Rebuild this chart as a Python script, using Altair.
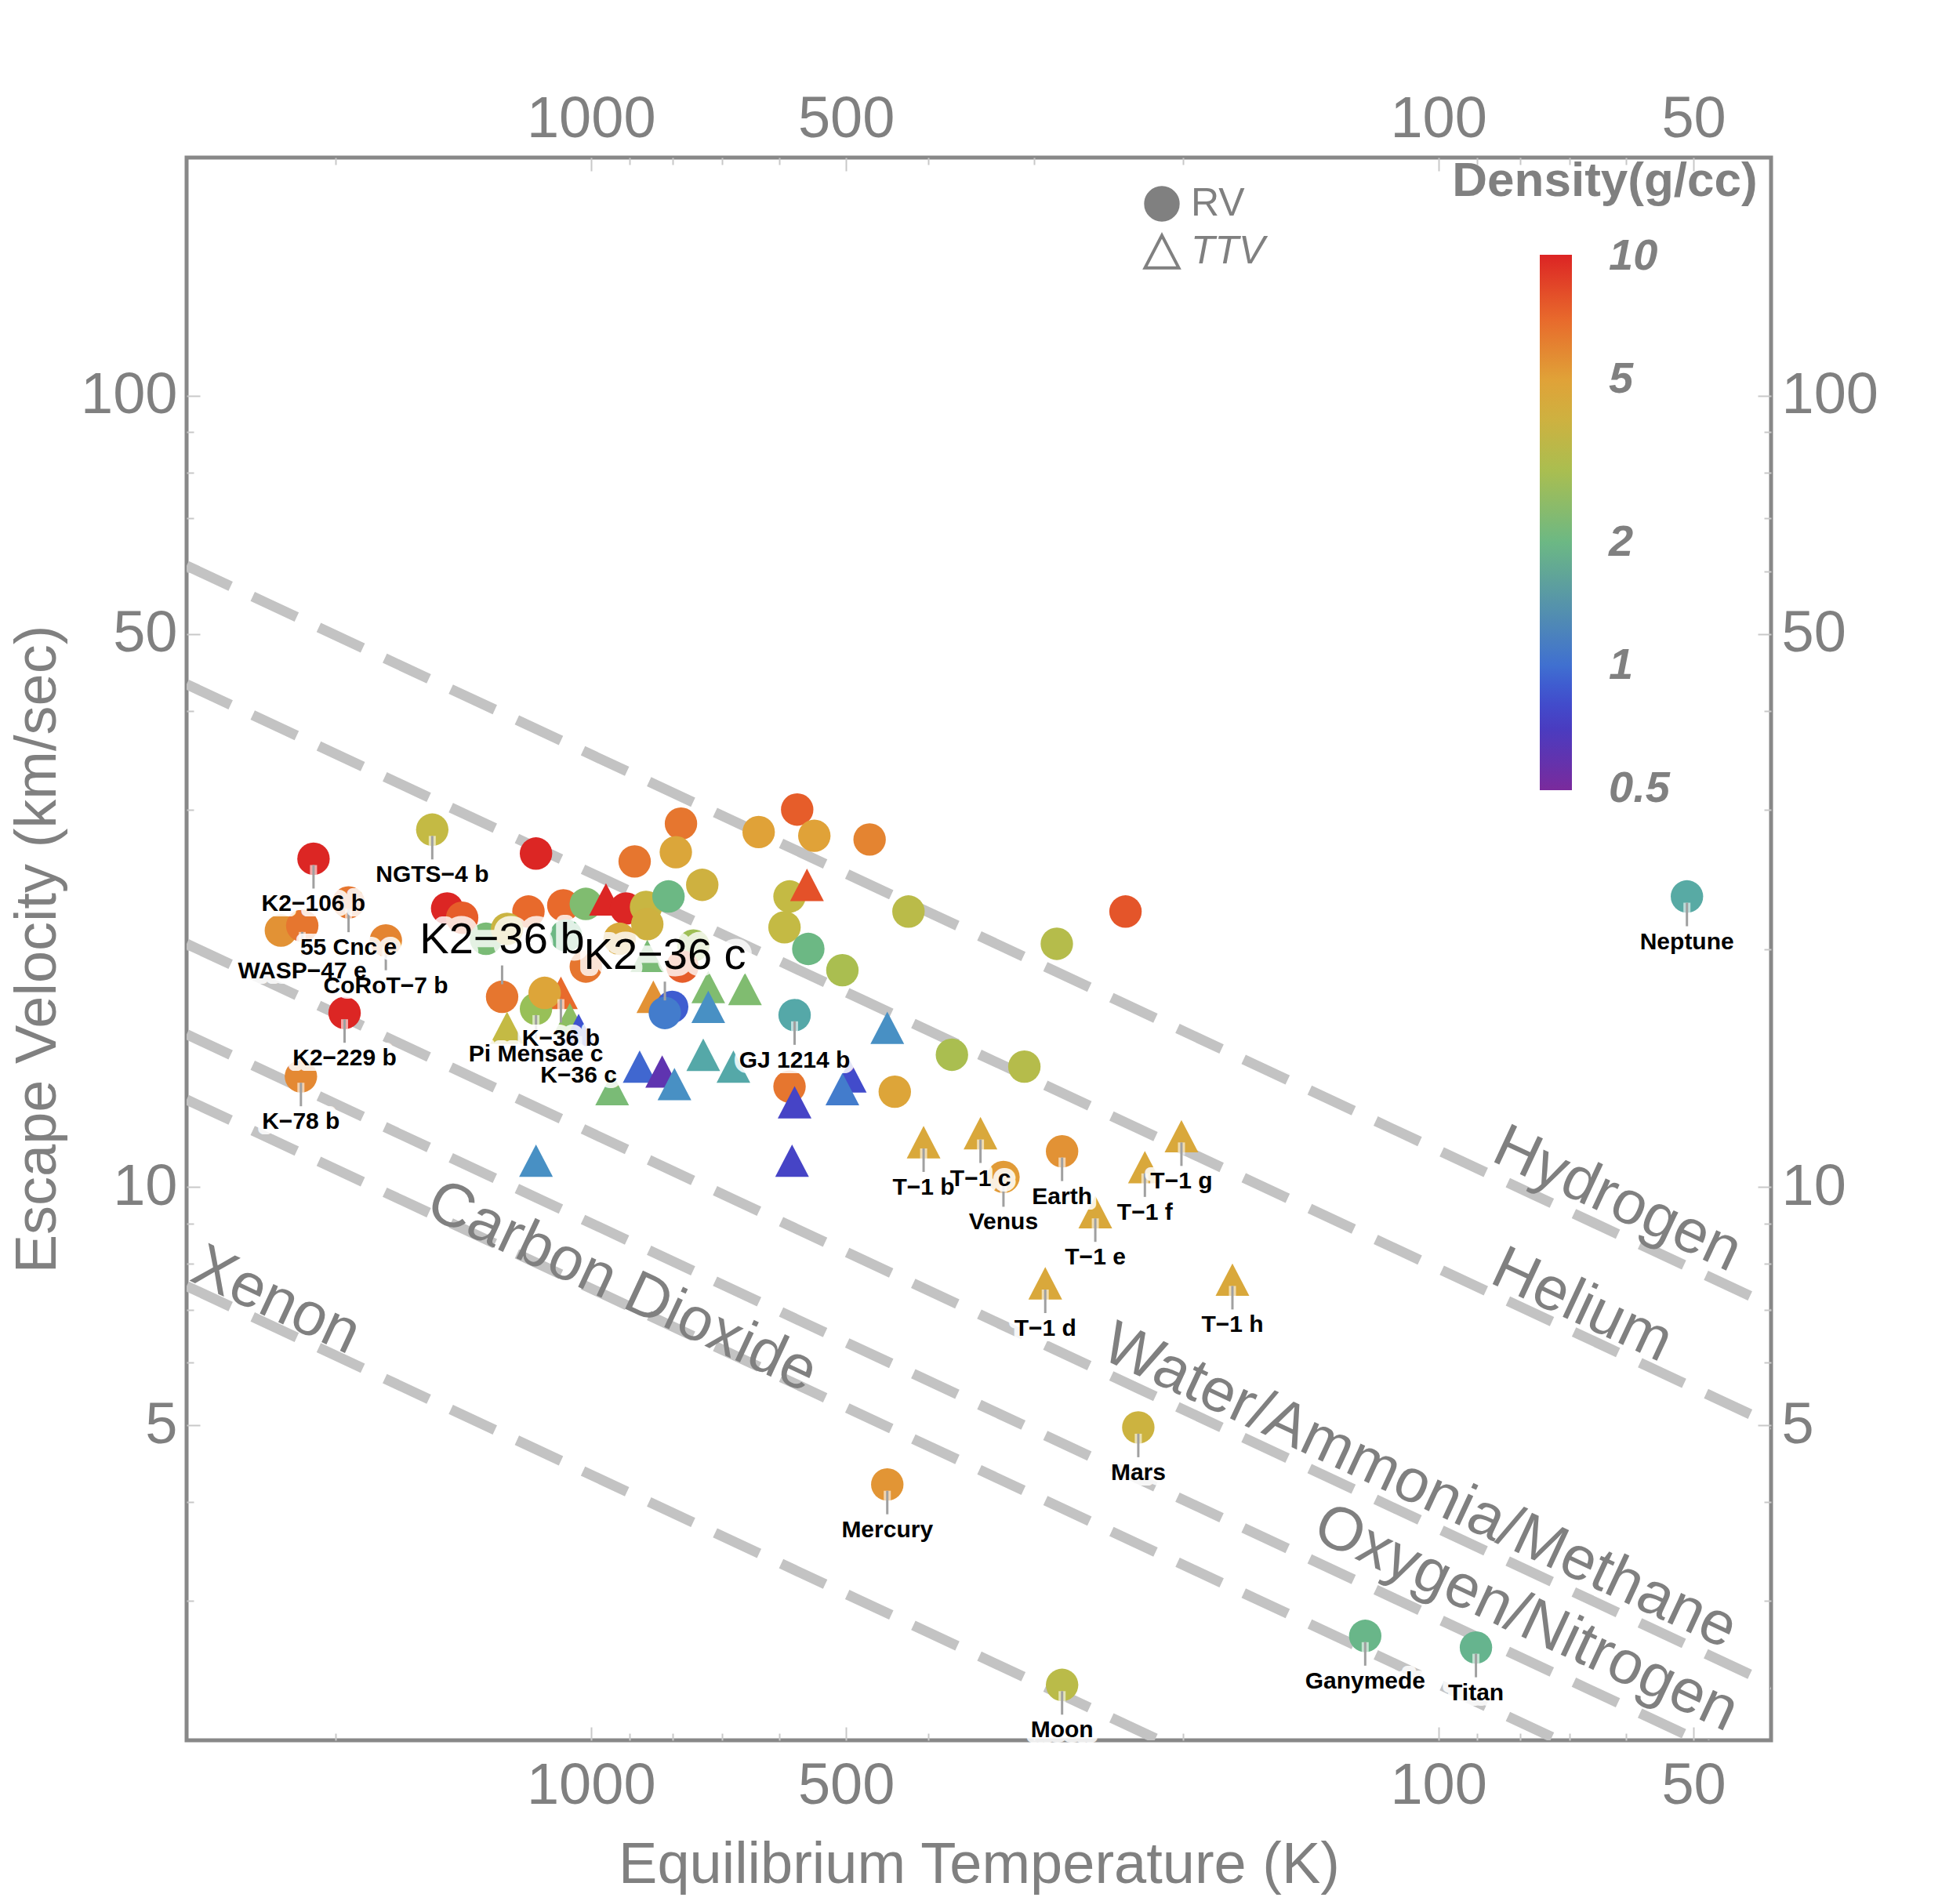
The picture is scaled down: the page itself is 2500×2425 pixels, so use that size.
import altair as alt
import pandas as pd

# ---------------- data ----------------
planet_names = [
    "K2−106 b", "NGTS−4 b", "", "55 Cnc e", "", "WASP−47 e", "CoRoT−7 b", "K2−229 b", "K−78 b", "",
    "", "", "", "", "", "", "", "", "", "",
    "", "", "", "", "", "", "", "", "", "",
    "", "", "", "", "Neptune", "", "", "", "", "",
    "", "", "", "", "K2−36 b", "K−36 b", "", "", "K2−36 c", "",
    "", "", "GJ 1214 b", "", "Pi Mensae c", "", "", "", "K−36 c", "",
    "", "", "", "", "", "", "", "", "", "",
    "", "", "", "", "T−1 b", "T−1 c", "Venus", "Earth", "T−1 e", "T−1 f",
    "T−1 g", "T−1 d", "T−1 h", "Mercury", "Mars", "Moon", "Ganymede", "Titan",
]
planet_teq = [
    2125, 1539, 1161, 1932, 2322, 2191, 1746, 1953, 2199, 1478,
    1419, 1185, 1078, 1014, 960, 909, 861, 810, 739, 783,
    794, 888, 634, 571, 545, 469, 583, 591, 556, 554,
    505, 422, 282, 234, 50.9, 1070, 858, 925, 757, 1330,
    1256, 1014, 780, 858, 1273, 1085, 844, 802, 818, 727,
    727, 658, 575, 447, 1161, 1134, 1256, 1059, 1034, 876,
    824, 797, 737, 679, 944, 583, 575, 495, 505, 438,
    375, 308, 1161, 579, 405, 347, 326, 278, 254, 222,
    201, 291, 175, 447, 226, 278, 122, 90.3,
]
planet_vesc = [
    26.0, 28.3, 26.4, 22.9, 21.1, 21.4, 20.5, 16.6, 13.8, 22.5,
    21.9, 22.3, 22.7, 22.8, 23.1, 22.5, 22.6, 23.3, 24.1, 28.8,
    26.5, 25.8, 28.1, 30.0, 27.8, 27.5, 23.3, 21.3, 24.1, 20.0,
    18.8, 22.3, 20.3, 22.3, 23.3, 20.8, 21.5, 20.6, 20.2, 20.6,
    21.2, 19.0, 19.0, 19.6, 17.4, 17.6, 17.4, 16.9, 16.6, 17.9,
    16.9, 17.8, 16.5, 15.9, 16.8, 17.6, 15.9, 16.3, 15.8, 14.2,
    14.0, 13.5, 14.7, 14.2, 13.3, 13.4, 12.8, 13.8, 13.3, 13.2,
    14.7, 14.2, 10.8, 10.8, 11.4, 11.7, 10.3, 11.1, 9.3, 10.6,
    11.6, 7.56, 7.64, 4.21, 4.97, 2.35, 2.71, 2.62,
]
planet_density = [
    10, 3.5, 10, 6.5, 5.5, 6.5, 6.0, 10, 5.8, 10,
    7.5, 7.0, 7.0, 2.3, 10, 10, 3.7, 2.0, 4.0, 6.5,
    4.7, 6.5, 5.0, 7.5, 5.0, 6.0, 3.5, 3.5, 8.0, 2.0,
    3.0, 3.3, 3.2, 7.8, 1.64, 2.0, 4.0, 4.5, 2.8, 2.2,
    3.8, 6.5, 7.5, 2.2, 6.5, 7.0, 5.5, 0.9, 1.1, 2.3,
    1.3, 2.3, 1.6, 1.3, 2.7, 4.8, 3.5, 2.5, 0.85, 0.95,
    0.6, 1.3, 1.6, 1.6, 2.2, 6.5, 0.75, 0.8, 1.1, 4.8,
    3.0, 3.2, 1.3, 0.75, 4.6, 4.6, 5.2, 5.5, 4.6, 4.6,
    4.6, 4.6, 4.6, 5.4, 3.9, 3.3, 1.94, 1.88,
]
planet_method = [
    "RV", "RV", "RV", "RV", "RV", "RV", "RV", "RV", "RV", "RV",
    "RV", "RV", "RV", "RV", "TTV", "RV", "RV", "RV", "RV", "RV",
    "RV", "RV", "RV", "RV", "RV", "RV", "RV", "RV", "TTV", "RV",
    "RV", "RV", "RV", "RV", "RV", "RV", "RV", "RV", "RV", "RV",
    "RV", "RV", "RV", "TTV", "RV", "TTV", "TTV", "RV", "RV", "TTV",
    "TTV", "TTV", "RV", "TTV", "RV", "RV", "TTV", "TTV", "TTV", "TTV",
    "TTV", "TTV", "TTV", "TTV", "TTV", "RV", "TTV", "TTV", "TTV", "RV",
    "RV", "RV", "TTV", "TTV", "TTV", "TTV", "RV", "RV", "TTV", "TTV",
    "TTV", "TTV", "TTV", "RV", "RV", "RV", "RV", "RV",
]
big_label_names = ["K2−36 b", "K2−36 c"]

gas_names = ["Hydrogen", "Helium", "Water/Ammonia/Methane", "Oxygen/Nitrogen", "Carbon Dioxide", "Xenon"]
gas_v_at_3000K = [61.0, 43.2, 20.3, 15.6, 12.9, 7.5]
gas_v_at_40K = [7.04, 4.99, 2.34, 1.80, 1.49, 0.866]
gas_line_T = [3000, 40]
gas_label_T = [61.5, 67.7, 105.2, 78.8, 919, 2353]
gas_label_v = [9.64, 7.08, 4.18, 2.85, 7.47, 7.18]

x_major_ticks = [1000, 500, 100, 50]
x_minor_ticks = [2000, 900, 800, 700, 600, 400, 300, 200, 90, 80, 70, 60]
y_major_ticks = [100, 50, 10, 5]
y_minor_ticks = [90, 80, 70, 60, 40, 30, 20, 9, 8, 7, 6, 4, 3]
density_ticks = [0.5, 1, 2, 5, 10]
methods = ["RV", "TTV"]

# ---------------- tables ----------------
pts = pd.DataFrame({"name": planet_names, "T": planet_teq, "v": planet_vesc,
                    "density": planet_density, "method": planet_method})
labeled = pts[(pts["name"] != "") & (~pts["name"].isin(big_label_names))]
big = pts[pts["name"].isin(big_label_names)]

gas_rows = []
for n, vh, vc in zip(gas_names, gas_v_at_3000K, gas_v_at_40K):
    gas_rows.append({"gas": n, "T": gas_line_T[0], "v": vh})
    gas_rows.append({"gas": n, "T": gas_line_T[1], "v": vc})
gas_df = pd.DataFrame(gas_rows)
gas_lab = pd.DataFrame({"gas": gas_names, "T": gas_label_T, "v": gas_label_v})

# ---------------- styling ----------------
GRAY = "#808080"
TICK = "#c8c8c8"
FONT = "Liberation Sans"
W, H = 2021, 2019

xs = alt.Scale(type="log", domain=[40.5, 3000], reverse=True, nice=False)
ys = alt.Scale(type="log", domain=[2, 200], nice=False)

def make_axis(orient, values, major, title=None, pad=12):
    size = 17 if major else 9
    kw = dict(orient=orient, values=values, offset=-size, tickSize=size, tickColor=TICK,
              tickWidth=2, domain=False, grid=False, labelFlush=False)
    if major:
        kw.update(labels=True, format="d", labelFontSize=74, labelColor=GRAY, labelFont=FONT,
                  labelPadding=pad, labelOverlap=False)
    else:
        kw.update(labels=False)
    if title:
        kw.update(title=title, titleFontSize=74, titleColor=GRAY, titleFont=FONT,
                  titleFontWeight="normal", titleLimit=3000,
                  titlePadding=28 if orient == "bottom" else 16)
    else:
        kw.update(title=None)
    return alt.Axis(**kw)

ax_b = make_axis("bottom", x_major_ticks, True, "Equilibrium Temperature (K)", pad=22)
ax_t = make_axis("top", x_major_ticks, True, pad=11)
ax_l = make_axis("left", y_major_ticks, True, "Escape Velocity (km/sec)", pad=12)
ax_r = make_axis("right", y_major_ticks, True, pad=13)
ax_bm = make_axis("bottom", x_minor_ticks, False)
ax_tm = make_axis("top", x_minor_ticks, False)
ax_lm = make_axis("left", y_minor_ticks, False)
ax_rm = make_axis("right", y_minor_ticks, False)

def X(axis=None):
    return alt.X("T:Q", scale=xs, axis=axis)

def Y(axis=None):
    return alt.Y("v:Q", scale=ys, axis=axis)

color_domain = [0.495, 0.7, 0.85, 1.0, 1.3, 1.6, 2.0, 2.7, 3.5, 5.0, 7.0, 10.1]
color_range = ["#7a2a9c", "#4a3cc0", "#3f52d0", "#4070d0", "#4890c4", "#55a8a8",
               "#6cb884", "#98c058", "#c4ba44", "#e0a238", "#e86a2c", "#dc2424"]
TRI = "M0,-1L1.04,1L-1.04,1Z"
PSIZE = 1712

# ---------------- layers ----------------
gas_lines = alt.Chart(gas_df).mark_line(
    color="#c3c3c3", strokeWidth=13, strokeDash=[62, 31], clip=True, strokeCap="butt"
).encode(x=X(ax_b), y=Y(ax_l), detail="gas:N")

gas_text = alt.Chart(gas_lab).mark_text(
    angle=25, fontSize=78, color=GRAY, font=FONT, align="center", baseline="middle"
).encode(x=X(ax_t), y=Y(ax_r), text="gas:N")

points = alt.Chart(pts).mark_point(filled=True, opacity=1, strokeWidth=0, size=PSIZE).encode(
    x=X(ax_tm), y=Y(ax_rm),
    color=alt.Color(
        "density:Q",
        scale=alt.Scale(type="log", domain=color_domain, range=color_range, clamp=True,
                        interpolate="rgb"),
        legend=alt.Legend(
            title="Density(g/cc)", orient="none", legendX=1614, legendY=0, direction="vertical",
            gradientLength=683, gradientThickness=41, gradientStrokeWidth=0,
            values=density_ticks, format="~g",
            labelFontSize=56, labelFontWeight="bold", labelFontStyle="italic", labelColor=GRAY,
            labelFont=FONT, labelOffset=47, labelOverlap=False,
            titleFontSize=62, titleFontWeight="bold", titleColor=GRAY, titleFont=FONT,
            titleAnchor="middle", titlePadding=62, titleLimit=1000, padding=0,
        ),
    ),
    shape=alt.Shape(
        "method:N",
        scale=alt.Scale(domain=methods, range=["circle", TRI]),
        legend=alt.Legend(
            title=None, orient="none", legendX=1219, legendY=34,
            symbolSize=PSIZE, symbolStrokeColor=GRAY, symbolStrokeWidth=4,
            symbolFillColor=alt.ExprRef(expr="datum.value == 'TTV' ? 'transparent' : '#808080'"),
            labelFontSize=50, labelColor=GRAY, labelFont=FONT,
            labelFontStyle=alt.ExprRef(expr="datum.label == 'TTV' ? 'italic' : 'normal'"),
            labelOffset=12, rowPadding=3, padding=0,
        ),
    ),
)

stem_band = alt.Chart(labeled).mark_rule(color="white", strokeWidth=9, opacity=0.6,
                                         yOffset=8, y2Offset=24).encode(
    x=X(ax_bm), y=Y(ax_lm), y2=alt.Y2("v"))
stem_line = alt.Chart(labeled).mark_rule(color="#a0a0a0", strokeWidth=3,
                                         yOffset=8, y2Offset=38).encode(
    x=X(), y=Y(), y2=alt.Y2("v"))
big_stem = alt.Chart(big).mark_rule(color="#a0a0a0", strokeWidth=3,
                                    yOffset=-16, y2Offset=-40).encode(
    x=X(), y=Y(), y2=alt.Y2("v"))

lab_halo = alt.Chart(labeled).mark_text(
    font=FONT, fontSize=30, fontWeight="bold", dy=58, color="white", stroke="white",
    strokeWidth=14, strokeJoin="round", opacity=0.85
).encode(x=X(), y=Y(), text="name:N")
lab_text = alt.Chart(labeled).mark_text(
    font=FONT, fontSize=30, fontWeight="bold", dy=58, color="black"
).encode(x=X(), y=Y(), text="name:N")

big_halo = alt.Chart(big).mark_text(
    font=FONT, fontSize=56, dy=-73, color="white", stroke="white",
    strokeWidth=18, strokeJoin="round", opacity=0.8
).encode(x=X(), y=Y(), text="name:N")
big_text = alt.Chart(big).mark_text(
    font=FONT, fontSize=56, dy=-73, color="black"
).encode(x=X(), y=Y(), text="name:N")

chart = alt.layer(
    gas_lines, gas_text, points, stem_band, stem_line, big_stem,
    lab_halo, lab_text, big_halo, big_text
).resolve_axis(x="independent", y="independent").properties(
    width=W, height=H,
    padding={"left": 238, "top": 201, "right": 241, "bottom": 205},
    autosize=alt.AutoSizeParams(type="none"),
    background="white",
).configure(font=FONT).configure_view(stroke="#888888", strokeWidth=5)

chart.save("out.html", embed_options={"renderer": "svg", "actions": False})
